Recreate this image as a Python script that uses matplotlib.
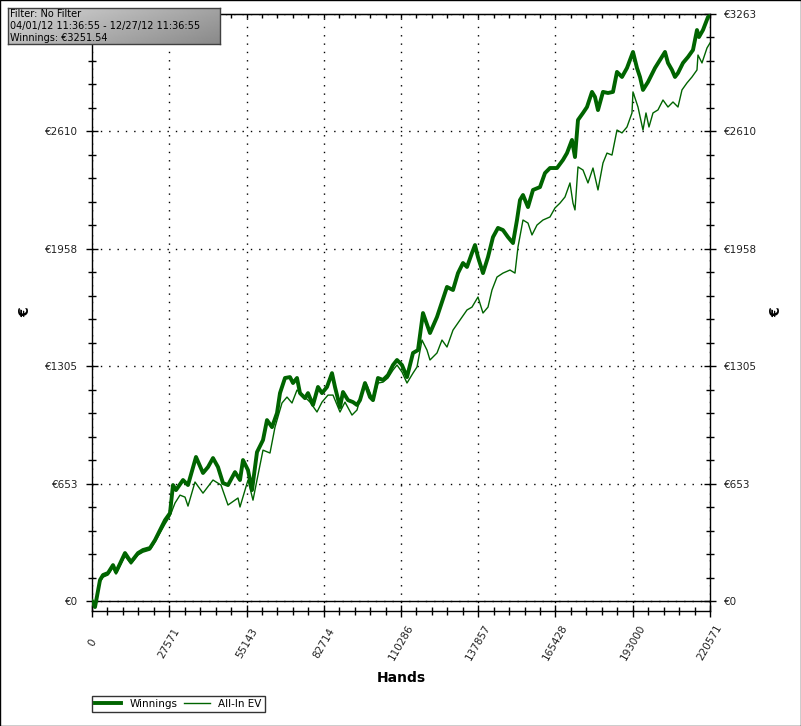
import matplotlib
matplotlib.use('Agg')
import matplotlib.pyplot as plt
import numpy as np
from matplotlib.ticker import FixedLocator
from matplotlib.patches import Rectangle

# Winnings curve (hands, euros)
win_hands = [0, 1071, 2855, 3926, 5710, 7495, 8566, 11778, 13919, 16417, 18202, 20700,
             22485, 24269, 26054, 27838, 28909, 29980, 32478, 34262, 37118, 39616, 41400,
             43185, 44969, 46754, 48538, 51036, 52821, 53892, 55677, 57104, 58889, 61030,
             62458, 64242, 66027, 67098, 68882, 70667, 71738, 73165, 74236, 76021, 77091,
             78876, 80659, 82087, 83872, 85656, 86727, 88511, 89582, 91366, 93151, 94579,
             95649, 97434, 99218, 100289, 102074, 103858, 105642, 107427, 108855, 110639,
             112424, 114565, 116349, 118134, 120632, 123131, 124915, 126700, 128841, 130625,
             132410, 133838, 135622, 136693, 137763, 139548, 141332, 143117, 144901, 146686,
             148470, 150255, 151683, 152753, 153824, 155608, 157393, 159891, 161676, 163460,
             165959, 168100, 169528, 171312, 172383, 173454, 175239, 176666, 178450, 179521,
             180591, 182376, 184160, 185945, 187373, 189157, 190942, 193083, 194511, 195581,
             196652, 198436, 200935, 202719, 204504, 205575, 207002, 208073, 209144, 210928,
             212713, 214497, 215925, 216639, 218066, 219851, 220571]
win_vals = [0, -33, 117, 145, 156, 200, 161, 267, 217, 267, 284, 295,
            339, 395, 450, 489, 645, 617, 673, 645, 801, 712, 745,
            795, 745, 656, 645, 717, 673, 784, 728, 617, 828, 895,
            1006, 967, 1045, 1156, 1240, 1245, 1212, 1240, 1156, 1128, 1156,
            1090, 1190, 1156, 1190, 1267, 1190, 1078, 1162, 1117, 1106, 1090,
            1117, 1212, 1134, 1117, 1240, 1229, 1256, 1312, 1340, 1312,
            1245, 1379, 1395, 1601, 1490, 1579, 1662, 1746, 1729, 1823,
            1879, 1857, 1935, 1979, 1912, 1823, 1912, 2023, 2074, 2062,
            2023, 1990, 2118, 2229, 2257, 2190, 2285, 2301, 2379, 2407,
            2407, 2452, 2490, 2563, 2468, 2674, 2713, 2746, 2830, 2802,
            2729, 2830, 2824, 2830, 2941, 2913, 2963, 3052, 2963, 2913,
            2841, 2885, 2963, 3007, 3052, 2991, 2952, 2913, 2935, 2991,
            3024, 3063, 3174, 3135, 3174, 3246, 3251.54]

# All-In EV curve (hands, euros)
ev_hands = [0, 1071, 2855, 3926, 5710, 7495, 8566, 11778, 13919, 16417, 18202, 20700,
            22485, 24269, 26054, 27838, 29623, 31407, 33192, 34262, 36761, 39616, 43185,
            46040, 48538, 52107, 52821, 55677, 57461, 58889, 61030, 63528, 65313, 67811,
            69596, 71380, 73165, 75306, 77805, 80303, 82087, 84228, 86013, 88511, 90296,
            92794, 94579, 96363, 98148, 100289, 102074, 103858, 105642, 107427, 108855,
            110639, 112424, 114565, 115993, 117777, 119562, 120632, 123131, 124915, 126700,
            128841, 131339, 133838, 135622, 137763, 139548, 141332, 142760, 144545, 146686,
            149184, 150969, 152039, 153824, 155608, 157036, 158821, 160962, 163460, 165245,
            167029, 168814, 170598, 171669, 172383, 173454, 175239, 177022, 178807, 180591,
            182376, 183804, 185588, 187373, 189157, 190942, 192726, 193083, 194868, 196652,
            197723, 198794, 200222, 202006, 203791, 205575, 207360, 209144, 210572, 212356,
            214141, 215925, 216282, 217710, 219494, 220571]
ev_vals = [0, -33, 106, 133, 145, 189, 150, 250, 206, 256, 272, 284,
           328, 378, 428, 473, 545, 589, 578, 528, 662, 600, 673,
           645, 534, 573, 523, 673, 561, 673, 839, 823, 967, 1101,
           1134, 1101, 1173, 1145, 1106, 1051, 1106, 1145, 1145, 1051, 1106,
           1034, 1062, 1162, 1201, 1117, 1212, 1217, 1240, 1284, 1312,
           1273, 1212, 1267, 1301, 1451, 1395, 1340, 1379, 1451, 1412,
           1506, 1562, 1618, 1634, 1690, 1601, 1634, 1729, 1801, 1823,
           1840, 1823, 1968, 2118, 2101, 2035, 2090, 2118, 2135, 2185,
           2212, 2246, 2324, 2212, 2174, 2413, 2396, 2324, 2407, 2285,
           2435, 2490, 2479, 2618, 2602, 2635, 2713, 2830, 2746, 2618,
           2713, 2635, 2713, 2730, 2785, 2746, 2774, 2746, 2841, 2880,
           2913, 2952, 3035, 2991, 3074, 3102]

x_ticks = [0, 27571, 55143, 82714, 110286, 137857, 165428, 193000, 220571]
y_ticks = [0, 653, 1305, 1958, 2610, 3263]
y_labels = ['€' + str(v) for v in y_ticks]
info_lines = ['Filter: No Filter', '04/01/12 11:36:55 - 12/27/12 11:36:55', 'Winnings: €3251.54']

green = '#006400'
W, H = 801, 726
fs = 7.5

fig = plt.figure(figsize=(W / 100, H / 100), dpi=100)
ax = fig.add_axes([92 / W, 115 / H, 618 / W, 597 / H])

ax.plot(win_hands, win_vals, color=green, lw=2.8, label='Winnings', zorder=3)
ax.plot(ev_hands, ev_vals, color=green, lw=1.0, label='All-In EV', zorder=3)
ax.axhline(0, color='black', lw=1, zorder=2)

ax.set_xlim(0, 220571)
ax.set_ylim(-55, 3263)

# ticks
x_minor = []
for a, b in zip(x_ticks[:-1], x_ticks[1:]):
    x_minor += [a + (b - a) * k / 5 for k in range(1, 5)]
ax.xaxis.set_major_locator(FixedLocator(x_ticks))
ax.xaxis.set_minor_locator(FixedLocator(x_minor))
ax.set_xticklabels([str(v) for v in x_ticks])

y_minor = []
for a, b in zip(y_ticks[:-1], y_ticks[1:]):
    y_minor += [a + (b - a) * k / 5 for k in range(1, 5)]
ax.yaxis.set_major_locator(FixedLocator(y_ticks))
ax.yaxis.set_minor_locator(FixedLocator(y_minor))
ax.set_yticklabels(y_labels)

ax.tick_params(axis='both', which='both', direction='inout', top=False, right=True,
               labelsize=fs, labelcolor='#222222', width=1)
ax.tick_params(axis='both', which='major', length=8.6)
ax.tick_params(axis='both', which='minor', length=5.8)
ax.tick_params(axis='y', which='major', labelright=True, pad=5.7)
ax.tick_params(axis='x', which='major', pad=18.5)
for lab in ax.get_xticklabels():
    lab.set_rotation(60)
    lab.set_ha('center')
    lab.set_va('center')
# the top-left label sits under the info box
ax.yaxis.get_major_ticks()[-1].label1.set_visible(False)

# short inward ticks along the top edge
top = ax.secondary_xaxis('top')
top.xaxis.set_major_locator(FixedLocator(x_ticks))
top.xaxis.set_minor_locator(FixedLocator(x_minor))
top.tick_params(which='both', direction='in', length=3, labeltop=False, width=1)

ax.grid(True, which='major', color='black', lw=1, linestyle=(0, (1, 5)))
for s in ax.spines.values():
    s.set_linewidth(1)

fig.text(401 / W, 1 - 678 / H, 'Hands', ha='center', va='center', fontsize=10, fontweight='bold')
fig.text(25 / W, 1 - 312 / H, '€', ha='center', va='center', fontsize=10, fontweight='bold', rotation=90)
fig.text(776 / W, 1 - 312 / H, '€', ha='center', va='center', fontsize=10, fontweight='bold', rotation=90)

# legend
leg = ax.legend(loc='lower left', bbox_to_anchor=(92 / W, 14 / H), bbox_transform=fig.transFigure,
                ncol=2, fontsize=fs, frameon=True, fancybox=False, borderaxespad=0,
                handlelength=2.5, handletextpad=0.8, columnspacing=0.6, borderpad=0.3)
leg.get_frame().set_edgecolor('black')
leg.get_frame().set_linewidth(1)

# info box with grey gradient
bx = fig.add_axes([8 / W, 1 - 44 / H, 212 / W, 36 / H])
gx, gy = np.meshgrid(np.linspace(0, 1, 100), np.linspace(0, 1, 30))
grad = 0.84 - 0.2 * gx - 0.1 * gy
bx.imshow(grad, cmap='gray', vmin=0, vmax=1, aspect='auto', extent=(0, 1, 0, 1), origin='upper')
bx.set_xticks([])
bx.set_yticks([])
for s in bx.spines.values():
    s.set_color('#404040')
    s.set_linewidth(1)
for i, t in enumerate(info_lines):
    fig.text(10 / W, 1 - (14 + 12 * i) / H, t, ha='left', va='center', fontsize=7.0, color='black')

fig.patches.append(Rectangle((0, 0), 1, 1, transform=fig.transFigure, fill=False,
                             edgecolor='black', lw=1))

fig.savefig('out.png', dpi=100)
